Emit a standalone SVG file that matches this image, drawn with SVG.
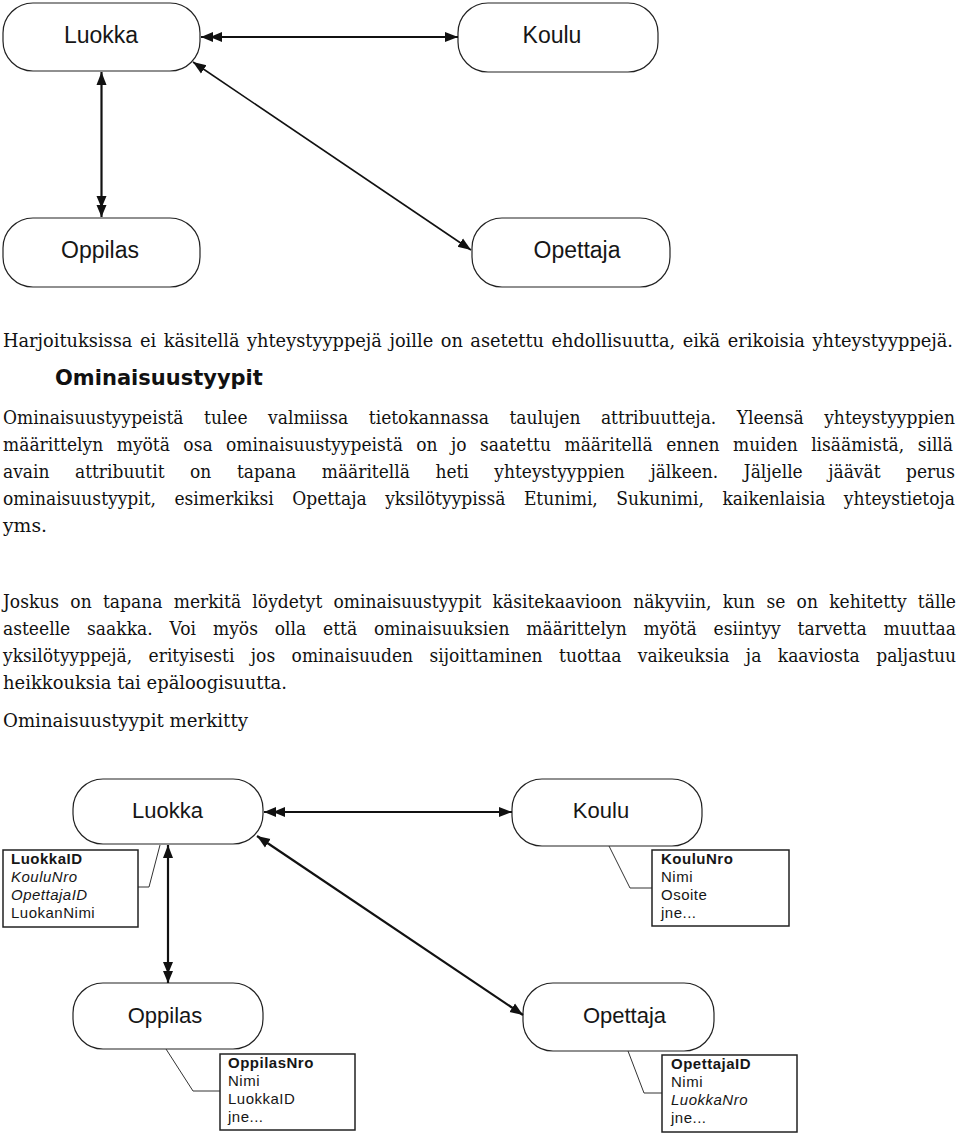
<svg xmlns="http://www.w3.org/2000/svg" width="960" height="1137" viewBox="0 0 960 1137">
<style>
.node rect{fill:#fff;stroke:#222;stroke-width:1.2}
.lbl{font-family:"Liberation Sans",Arial,sans-serif;font-size:23px;fill:#161616;text-anchor:middle}
.lbl2{font-family:"Liberation Sans",Arial,sans-serif;font-size:22px;fill:#161616;text-anchor:middle}
.attr rect{fill:#fff;stroke:#222;stroke-width:1.5}
.attr text{font-family:"Liberation Sans",Arial,sans-serif;font-size:15px;fill:#161616;letter-spacing:0.5px}
.b{font-weight:bold}
.i{font-style:italic}
.lead{fill:none;stroke:#333;stroke-width:1}
.conn path{fill:none;stroke:#111;stroke-width:2.2}
.conn path.thin{stroke-width:1.6}
.body{font-family:"DejaVu Serif",serif;font-size:19px;fill:#111}
.h{font-family:"DejaVu Sans",sans-serif;font-weight:bold;font-size:21px;fill:#111}
</style>
<defs>
<marker id="a1" markerWidth="14" markerHeight="12" refX="13" refY="6" orient="auto-start-reverse" markerUnits="userSpaceOnUse"><path d="M0,1 L13,6 L0,11 z" fill="#111"/></marker>
<marker id="a2" markerWidth="22" markerHeight="12" refX="21" refY="6" orient="auto-start-reverse" markerUnits="userSpaceOnUse"><path d="M0,1 L12,6 L0,11 z M9,1 L21,6 L9,11 z" fill="#111"/></marker>
</defs>
<rect width="960" height="1137" fill="#fff"/>

<!-- top diagram -->
<g id="t-luokka" class="node"><rect x="3" y="3" width="197" height="68" rx="30" ry="30"/><text class="lbl" x="101" y="43">Luokka</text></g>
<g id="t-koulu" class="node"><rect x="458" y="3" width="200" height="69" rx="30" ry="30"/><text class="lbl" x="552" y="43">Koulu</text></g>
<g id="t-oppilas" class="node"><rect x="3" y="218" width="197" height="69" rx="30" ry="30"/><text class="lbl" x="100" y="258">Oppilas</text></g>
<g id="t-opettaja" class="node"><rect x="472" y="218" width="198" height="69" rx="30" ry="30"/><text class="lbl" x="577" y="258">Opettaja</text></g>
<g id="t-connectors" class="conn">
<path d="M201,37 L458,37" marker-start="url(#a2)" marker-end="url(#a1)"/>
<path d="M101.5,72 L101.5,217" marker-start="url(#a1)" marker-end="url(#a2)"/>
<path class="thin" d="M193,62 L471,250" marker-start="url(#a1)" marker-end="url(#a1)"/>
</g>

<!-- text (condensed serif) -->
<text class="h" x="55" y="385">Ominaisuustyypit</text>
<g id="text" transform="scale(0.9 1)">
<text class="body" x="3.33" y="347" word-spacing="2" textLength="1055.6" lengthAdjust="spacingAndGlyphs">Harjoituksissa ei käsitellä yhteystyyppejä joille on asetettu ehdollisuutta, eikä erikoisia yhteystyyppejä.</text>
<text class="body" x="3.33" y="424" word-spacing="16.7" textLength="1057.8" lengthAdjust="spacingAndGlyphs">Ominaisuustyypeistä tulee valmiissa tietokannassa taulujen attribuutteja. Yleensä yhteystyyppien</text>
<text class="body" x="3.33" y="451" word-spacing="8.9" textLength="1055.6" lengthAdjust="spacingAndGlyphs">määrittelyn myötä osa ominaisuustyypeistä on jo saatettu määritellä ennen muiden lisäämistä, sillä</text>
<text class="body" x="3.33" y="478" word-spacing="22.4" textLength="1057.8" lengthAdjust="spacingAndGlyphs">avain attribuutit on tapana määritellä heti yhteystyyppien jälkeen. Jäljelle jäävät perus</text>
<text class="body" x="3.33" y="505" word-spacing="14.5" textLength="1057.8" lengthAdjust="spacingAndGlyphs">ominaisuustyypit, esimerkiksi Opettaja yksilötyypissä Etunimi, Sukunimi, kaikenlaisia yhteystietoja</text>
<text class="body" x="3.33" y="532" textLength="48.9" lengthAdjust="spacingAndGlyphs">yms.</text>
<text class="body" x="3.33" y="608" word-spacing="6.5" textLength="1058.9" lengthAdjust="spacingAndGlyphs">Joskus on tapana merkitä löydetyt ominaisuustyypit käsitekaavioon näkyviin, kun se on kehitetty tälle</text>
<text class="body" x="3.33" y="635" word-spacing="12.6" textLength="1058.9" lengthAdjust="spacingAndGlyphs">asteelle saakka. Voi myös olla että ominaisuuksien määrittelyn myötä esiintyy tarvetta muuttaa</text>
<text class="body" x="3.33" y="662" word-spacing="12.2" textLength="1058.9" lengthAdjust="spacingAndGlyphs">yksilötyyppejä, erityisesti jos ominaisuuden sijoittaminen tuottaa vaikeuksia ja kaaviosta paljastuu</text>
<text class="body" x="3.33" y="689" textLength="315.6" lengthAdjust="spacingAndGlyphs">heikkouksia tai epäloogisuutta.</text>
<text class="body" x="3.33" y="727" textLength="272.2" lengthAdjust="spacingAndGlyphs">Ominaisuustyypit merkitty</text>
</g>

<!-- bottom diagram -->
<g id="b-luokka" class="node"><rect x="73" y="779" width="190" height="65" rx="30" ry="30"/><text class="lbl2" x="167.5" y="818">Luokka</text></g>
<g id="b-koulu" class="node"><rect x="512" y="779" width="190" height="67" rx="30" ry="30"/><text class="lbl2" x="601" y="818">Koulu</text></g>
<g id="b-oppilas" class="node"><rect x="73" y="983" width="190" height="66" rx="30" ry="30"/><text class="lbl2" x="165" y="1023">Oppilas</text></g>
<g id="b-opettaja" class="node"><rect x="523" y="983" width="191" height="68" rx="30" ry="30"/><text class="lbl2" x="624.5" y="1023">Opettaja</text></g>

<g id="b-luokka-attr" class="attr">
<path class="lead" d="M160,845 L149,887 L138,887"/>
<rect x="3" y="850" width="135" height="77"/>
<text x="11" y="864" class="b">LuokkaID</text>
<text x="11" y="882" class="i">KouluNro</text>
<text x="11" y="900" class="i">OpettajaID</text>
<text x="11" y="918">LuokanNimi</text>
</g>
<g id="b-koulu-attr" class="attr">
<path class="lead" d="M609,846 L630,888 L652,888"/>
<rect x="652" y="850" width="137" height="76"/>
<text x="661" y="864" class="b">KouluNro</text>
<text x="661" y="882">Nimi</text>
<text x="661" y="900">Osoite</text>
<text x="661" y="918">jne...</text>
</g>
<g id="b-oppilas-attr" class="attr">
<path class="lead" d="M166,1049 L193,1091 L220,1091"/>
<rect x="220" y="1054" width="135" height="76"/>
<text x="228" y="1068" class="b">OppilasNro</text>
<text x="228" y="1086">Nimi</text>
<text x="228" y="1104">LuokkaID</text>
<text x="228" y="1122">jne...</text>
</g>
<g id="b-opettaja-attr" class="attr">
<path class="lead" d="M628,1051 L644,1093 L662,1093"/>
<rect x="662" y="1055" width="135" height="77"/>
<text x="671" y="1069" class="b">OpettajaID</text>
<text x="671" y="1087">Nimi</text>
<text x="671" y="1105" class="i">LuokkaNro</text>
<text x="671" y="1123">jne...</text>
</g>

<g id="b-connectors" class="conn">
<path d="M264,812 L512,812" marker-start="url(#a2)" marker-end="url(#a1)"/>
<path d="M168,845 L168,983" marker-start="url(#a1)" marker-end="url(#a2)"/>
<path d="M257,836 L523,1015" marker-start="url(#a1)" marker-end="url(#a1)"/>
</g>
</svg>
